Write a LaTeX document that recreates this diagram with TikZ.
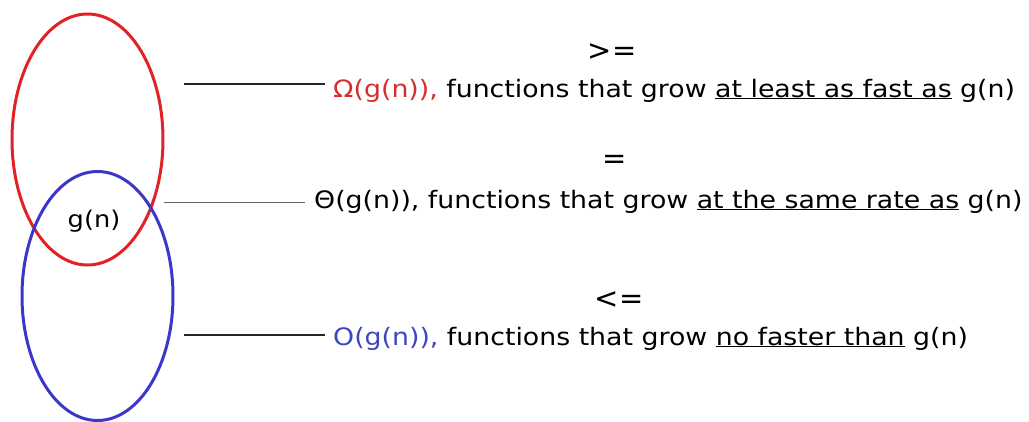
\documentclass[tikz,border=0pt]{standalone}
\usepackage{fontspec}
\setmainfont{DejaVu Sans}
\definecolor{myred}{RGB}{225,35,40}
\definecolor{myblue}{RGB}{60,55,200}
\definecolor{txtred}{RGB}{215,45,45}
\definecolor{txtblue}{RGB}{60,70,195}
\newcommand\ulx[1]{\underline{\smash{#1}}}
\newcommand\wide[1]{\scalebox{1.115}[1]{#1}}
\begin{document}
\begin{tikzpicture}[x=1pt,y=-1pt,
  setline/.style={line width=3pt},
  leader/.style={line width=1.3pt, black!85},
  thinleader/.style={line width=0.9pt, black!60},
  lbl/.style={anchor=base west, inner sep=0pt, font=\fontsize{24}{28}\selectfont},
  rel/.style={anchor=base, inner sep=0pt, font=\fontsize{29}{32}\selectfont}]
\useasboundingbox (0,0) rectangle (1029,421);
\fill[white] (0,0) rectangle (1029,421);
\draw[setline, myred] (87.5,139.5) ellipse [x radius=75.5pt, y radius=125.5pt];
\draw[setline, myblue] (97.5,296) ellipse [x radius=75.5pt, y radius=124.5pt];
\node[anchor=center, inner sep=0pt, font=\fontsize{23}{28}\selectfont] (g) at (94,221) {\wide{g(n)}};
\node[rel] (ge) at (612,60) {>=};
\node[rel] (eq) at (615,168) {=};
\node[rel] (le) at (619,308) {<=};
\node[lbl] (om) at (333,97) {\wide{\textcolor{txtred}{Ω(g(n)),} functions that grow \ulx{at least as fast as} g(n)}};
\node[lbl] (th) at (314,208) {\wide{Θ(g(n)), functions that grow \ulx{at the same rate as} g(n)}};
\node[lbl] (bo) at (333,345) {\wide{\textcolor{txtblue}{O(g(n)),} functions that grow \ulx{no faster than} g(n)}};
\coordinate (a1) at (184,84);
\coordinate (a2) at (164,202);
\coordinate (a3) at (184,335);
\draw[leader] (a1) -- ([xshift=-8pt]a1 -| om.west);
\draw[thinleader] (a2) -- ([xshift=-9pt]a2 -| th.west);
\draw[leader] (a3) -- ([xshift=-8pt]a3 -| bo.west);
\end{tikzpicture}
\end{document}
